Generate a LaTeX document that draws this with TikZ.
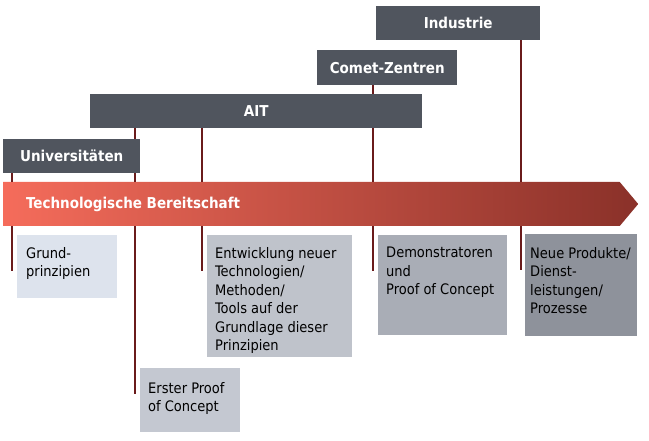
\documentclass[tikz,border=0pt]{standalone}
\usepackage{fontspec}
\setmainfont{DejaVu Sans Condensed}
\usetikzlibrary{positioning, shapes.arrows}

\definecolor{traegergrau}{HTML}{50555E}
\definecolor{grundblau}{HTML}{DDE3ED}
\definecolor{stufegrauA}{HTML}{C4C8D1}
\definecolor{stufegrauB}{HTML}{BFC3CB}
\definecolor{stufegrauC}{HTML}{A9ADB6}
\definecolor{stufegrauD}{HTML}{8E929B}
\definecolor{linienrot}{HTML}{6A1B1B}
\definecolor{pfeillinks}{HTML}{F56C5B}
\definecolor{pfeilmitte}{HTML}{D05449}
\definecolor{pfeilrechts}{HTML}{8A3129}

\tikzset{
	traeger/.style={fill=traegergrau, text=white, font=\bfseries\fontsize{15}{18}\selectfont, anchor=north west, inner sep=0pt, minimum height=34pt},
	pfeil/.style={single arrow, single arrow head extend=0pt, single arrow tip angle=100, minimum width=44pt, minimum height=635pt, inner sep=0pt, anchor=tail, shading=axis, left color=pfeillinks, middle color=pfeilmitte, right color=pfeilrechts},
	pfeiltext/.style={text=white, font=\bfseries\fontsize{15}{18}\selectfont, inner sep=0pt},
	stufe/.style={anchor=north west, inner sep=0pt},
	stufentext/.style={align=left, inner sep=0pt, font=\fontsize{14.5}{18.5}\selectfont},
	verbind/.style={draw=linienrot, line width=2pt}
}

\begin{document}
\begin{tikzpicture}[x=1pt, y=-1pt]
				\useasboundingbox (0,0) rectangle (649,441);
				\node[traeger, minimum width=164pt] (industrie) at (376,6) {Industrie};
				\node[traeger, minimum width=140pt, minimum height=35pt] (comet) at (317,50) {Comet-Zentren};
				\node[traeger, minimum width=332pt] (ait) at (90,94) {AIT};
				\node[traeger, minimum width=137pt] (uni) at (3,139) {Universitäten};
				\node[pfeil] (bereit) at (3,204) {};
				\node[pfeiltext, right=23pt of bereit.tail] (bereittext) {Technologische Bereitschaft};
				\node[stufe, fill=grundblau, minimum width=100pt, minimum height=63pt] (grund) at (17,235) {};
				\node[stufentext, below right=12pt and 9pt of grund.north west] (grundtext) {Grund-\\prinzipien};
				\node[stufe, fill=stufegrauA, minimum width=100pt, minimum height=64pt] (erster) at (140,368) {};
				\node[stufentext, below right=14pt and 8pt of erster.north west] (erstertext) {Erster Proof\\of Concept};
				\node[stufe, fill=stufegrauB, minimum width=145pt, minimum height=122pt] (entw) at (207,235) {};
				\node[stufentext, below right=12pt and 8pt of entw.north west] (entwtext) {Entwicklung neuer\\Technologien/\\Methoden/\\Tools auf der\\Grundlage dieser\\Prinzipien};
				\node[stufe, fill=stufegrauC, minimum width=129pt, minimum height=100pt] (demo) at (378,235) {};
				\node[stufentext, below right=12pt and 8pt of demo.north west] (demotext) {Demonstratoren\\und\\Proof of Concept};
				\node[stufe, fill=stufegrauD, minimum width=112pt, minimum height=102pt] (neu) at (525,234) {};
				\node[stufentext, below right=13pt and 5pt of neu.north west] (neutext) {Neue Produkte/\\Dienst-\\leistungen/\\Prozesse};
				\coordinate (f1) at (12,271);
				\coordinate (f2) at (135,394);
				\coordinate (f3) at (202,271);
				\coordinate (f4) at (373,271);
				\coordinate (f5) at (521,270);
				\path[verbind] (uni.south -| f1) edge (bereit.north -| f1)
					(ait.south -| f2) edge (uni.north -| f2)
					(uni.south -| f2) edge (bereit.north -| f2)
					(ait.south -| f3) edge (bereit.north -| f3)
					(comet.south -| f4) edge (ait.north -| f4)
					(ait.south -| f4) edge (bereit.north -| f4)
					(industrie.south -| f5) edge (bereit.north -| f5)
					(bereit.south -| f1) edge (f1)
					(bereit.south -| f2) edge (f2)
					(bereit.south -| f3) edge (f3)
					(bereit.south -| f4) edge (f4)
					(bereit.south -| f5) edge (f5);
			\end{tikzpicture}
\end{document}
